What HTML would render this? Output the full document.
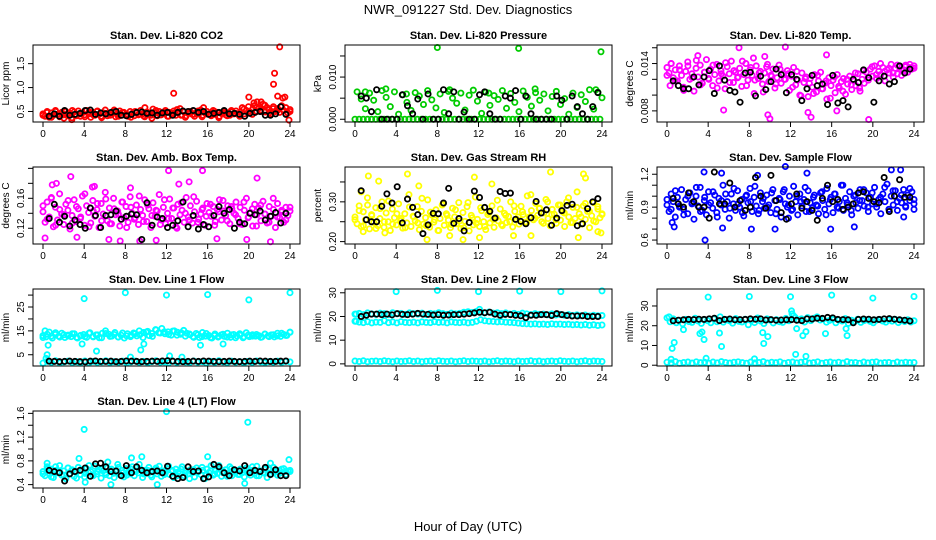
<!DOCTYPE html>
<html><head><meta charset="utf-8">
<style>
html,body{margin:0;padding:0;background:#fff;}
svg{display:block;font-family:"Liberation Sans",Arial,sans-serif;}
</style></head>
<body>
<svg id="chart" width="936" height="540" viewBox="0 0 936 540" xmlns="http://www.w3.org/2000/svg">
<rect width="936" height="540" fill="#fff"/>
<text x="468" y="14" text-anchor="middle" font-size="13">NWR_091227  Std. Dev. Diagnostics</text>
<text x="468" y="531" text-anchor="middle" font-size="13">Hour of Day (UTC)</text>
</svg>
<script>
const hourTicks = [0,4,8,12,16,20,24];

const co2Red = [0.45,0.40,0.50,0.38,0.47,0.42,0.52,0.44,0.39,0.48,0.43,0.50,0.41,0.46,0.37,0.49,0.44,0.51,0.40,0.47,0.43,0.52,0.45,0.38,
0.48,0.42,0.50,0.44,0.40,0.47,0.53,0.41,0.46,0.43,0.49,0.39,0.45,0.51,0.42,0.48,0.44,0.40,0.50,0.46,0.41,0.47,0.43,0.52,
0.45,0.39,0.49,0.44,0.42,0.55,0.47,0.41,0.50,0.43,0.46,0.52,0.40,0.48,0.44,0.51,0.42,0.47,0.56,0.43,0.49,0.41,0.46,0.50,
0.44,0.40,0.48,0.45,0.53,0.42,0.47,0.50,0.45,0.41,0.52,0.44,0.48,0.40,0.46,0.50,0.43,0.47,0.42,0.49,0.45,0.51,0.44,0.48,
0.58,0.45,0.52,0.60,0.48,0.55,0.62,0.50,0.57,0.53,0.65,0.49,0.58,0.54,0.45,0.60,0.50,0.56,0.48,0.62,0.52,0.58,0.47,0.50];
const co2RedB = [0.42,0.48,0.38,0.50,0.44,0.36,0.47,0.52,0.41,0.45,0.39,0.49,0.43,0.51,0.37,0.46,0.42,0.53,0.40,0.48,0.44,0.38,0.50,0.45,0.41,0.47,0.36,0.52,0.43,0.49,0.40,0.46,0.54,0.42,0.38,0.48,0.44,0.51,0.39,0.45,0.43,0.50,0.37,0.47,0.41,0.52,0.46,0.40,0.55,0.48,0.44,0.58,0.50,0.63,0.47,0.56,0.52,0.60,0.45,0.54];
const co2Outliers = [[12.7,0.88],[20,0.80],[20.5,0.68],[20.8,0.70],[21.2,0.70],[22.4,1.07],[22.5,1.30],[22.8,0.82],[23,1.85],[23.3,0.78],[23.5,0.80],[23.9,0.32],[2.8,0.33],[9.9,0.58],[15.6,0.58]];
const co2Black = [0.40,0.45,0.40,0.52,0.42,0.44,0.46,0.52,0.53,0.44,0.47,0.45,0.48,0.50,0.42,0.41,0.44,0.48,0.49,0.46,0.47,0.42,0.47,0.48,0.42,0.48,0.51,0.50,0.52,0.48,0.50,0.44,0.46,0.48,0.52,0.45,0.46,0.44,0.40,0.46,0.48,0.50,0.42,0.42,0.45,0.60,0.44];

const presGreen = [0,0.0065,0,0.0048,0,0.0025,0,0.0062,0,0.0045,0,0.0018,0,0.0068,0,0.0052,0,0.0030,0,0.0065,0,0.0012,0,0.0058,
0,0.0040,0,0.0021,0,0.0063,0,0.0055,0,0.0035,0,0.0068,0,0.0046,0,0.0027,0,0.0060,0,0.0016,0,0.0066,0,0.0050,
0,0.0038,0,0.0062,0,0.0022,0,0.0057,0,0.0069,0,0.0043,0,0.0014,0,0.0064,0,0.0033,0,0.0056,0,0.0047,0,0.0068,
0,0.0026,0,0.0061,0,0.0040,0,0.0018,0,0.0067,0,0.0052,0,0.0031,0,0.0063,0,0.0045,0,0.0060,0,0.0020,0,0.0054,
0,0.0066,0,0.0035,0,0.0049,0,0.0012,0,0.0062,0,0.0028,0,0.0058,0,0.0042,0,0.0070,0,0.0024,0,0.0064,0,0.0051];
const presOutliers = [[8,0.0170],[15.9,0.0168],[23.9,0.0160],[1,0.0065],[3,0.0072],[9.2,0.0070],[17.5,0.0072],[23.4,0.0070],[5,0.0060],[13,0.0062]];
const presBlack = [0.0055,0.0050,0.0018,0.0070,0,0,0,0,0.0058,0.0032,0.0013,0.0048,0,0.0060,0,0,0.0070,0.0013,0.0065,0,0.0017,0,0,0.0058,0.0065,0.0013,0,0,0.0055,0.0050,0.0068,0,0.0055,0.0013,0,0,0,0,0.0055,0.0045,0,0.0055,0.0030,0.0013,0,0.0030,0.0063];

const tempMagenta = [0.0135,0.0128,0.0140,0.0122,0.0132,0.0118,0.0137,0.0125,0.0110,0.0130,0.0142,0.0120,0.0127,0.0105,0.0134,0.0123,0.0138,0.0115,0.0129,0.0145,0.0121,0.0133,0.0112,0.0126,
0.0139,0.0118,0.0131,0.0124,0.0108,0.0136,0.0127,0.0143,0.0116,0.0129,0.0122,0.0134,0.0111,0.0126,0.0140,0.0119,0.0132,0.0125,0.0102,0.0137,0.0121,0.0130,0.0114,0.0128,
0.0136,0.0117,0.0125,0.0133,0.0109,0.0122,0.0138,0.0115,0.0127,0.0120,0.0131,0.0106,0.0124,0.0135,0.0113,0.0119,0.0100,0.0128,0.0116,0.0123,0.0098,0.0121,0.0110,0.0126,
0.0104,0.0118,0.0129,0.0108,0.0115,0.0095,0.0122,0.0112,0.0119,0.0103,0.0126,0.0109,0.0117,0.0121,0.0101,0.0114,0.0124,0.0107,0.0118,0.0112,0.0127,0.0105,0.0120,0.0115,
0.0129,0.0119,0.0133,0.0124,0.0137,0.0121,0.0130,0.0126,0.0135,0.0118,0.0132,0.0128,0.0139,0.0123,0.0134,0.0127,0.0136,0.0125,0.0131,0.0138,0.0129,0.0135,0.0133,0.0137];
const tempMagentaB = [0.0125,0.0140,0.0118,0.0132,0.0106,0.0137,0.0122,0.0144,0.0113,0.0129,0.0120,0.0138,0.0109,0.0127,0.0141,0.0116,0.0131,0.0123,0.0143,0.0112,0.0135,0.0119,0.0128,0.0104,0.0139,0.0124,0.0114,0.0133,0.0120,0.0127,0.0110,0.0130,0.0099,0.0121,0.0115,0.0102,0.0125,0.0108,0.0118,0.0096,0.0123,0.0111,0.0105,0.0120,0.0113,0.0128,0.0109,0.0131,0.0122,0.0136,0.0126,0.0140,0.0130,0.0134,0.0128,0.0138,0.0132,0.0136,0.0139,0.0134];
const tempOutliers = [[7,0.0160],[11.5,0.0161],[10,0.0070],[9.8,0.0075],[5.5,0.0081],[19.6,0.0069],[14,0.0072],[3,0.0150],[15.5,0.0151],[9.5,0.0149],[8.4,0.0147],[0.3,0.0112],[16.5,0.0080],[13.7,0.0078]];
const tempBlack = [0.0118,0.0112,0.0108,0.0108,0.0123,0.0113,0.0123,0.0131,0.0102,0.0137,0.0119,0.0106,0.0104,0.0091,0.0128,0.0129,0.0099,0.0124,0.0107,0.0117,0.0133,0.0126,0.0103,0.0126,0.0120,0.0093,0.0108,0.0125,0.0112,0.0114,0.0088,0.0125,0.0090,0.0093,0.0085,0.0120,0.0116,0.0132,0.0122,0.0091,0.0118,0.0124,0.0114,0.0117,0.0137,0.0128,0.0133];

const boxMagenta = [0.142,0.128,0.155,0.135,0.160,0.122,0.148,0.131,0.166,0.139,0.125,0.152,0.144,0.119,0.137,0.158,0.129,0.146,0.133,0.163,0.124,0.150,0.141,0.127,
0.157,0.136,0.145,0.121,0.153,0.139,0.168,0.130,0.147,0.126,0.160,0.138,0.143,0.123,0.155,0.134,0.149,0.128,0.162,0.140,0.132,0.151,0.125,0.145,
0.137,0.158,0.129,0.146,0.121,0.154,0.136,0.143,0.165,0.131,0.148,0.126,0.140,0.159,0.133,0.147,0.122,0.152,0.138,0.144,0.128,0.161,0.135,0.150,
0.127,0.142,0.156,0.132,0.139,0.147,0.124,0.153,0.141,0.136,0.149,0.129,0.145,0.158,0.131,0.143,0.137,0.150,0.126,0.146,0.140,0.155,0.133,0.148,
0.125,0.144,0.160,0.135,0.141,0.123,0.152,0.138,0.147,0.130,0.156,0.139,0.127,0.149,0.136,0.145,0.121,0.153,0.134,0.142,0.128,0.148,0.137,0.143];
const boxMagentaB = [0.150,0.132,0.161,0.124,0.145,0.138,0.157,0.127,0.149,0.135,0.166,0.122,0.143,0.153,0.130,0.159,0.126,0.146,0.139,0.155,0.121,0.148,0.134,0.163,0.129,0.151,0.137,0.144,0.125,0.158,0.133,0.147,0.120,0.154,0.140,0.131,0.162,0.128,0.145,0.136,0.152,0.124,0.142,0.157,0.130,0.149,0.138,0.126,0.155,0.134,0.146,0.123,0.151,0.139,0.128,0.160,0.135,0.144,0.131,0.148];
const boxOutliers = [[0.2,0.107],[0.9,0.178],[1.3,0.180],[2.7,0.189],[5,0.176],[6.4,0.105],[7.5,0.103],[9.4,0.103],[11,0.104],[12.2,0.197],[13.2,0.179],[14.2,0.182],[15.5,0.197],[16.9,0.106],[19.8,0.105],[20.8,0.187],[22.1,0.102],[3.3,0.108],[4.8,0.175],[8.5,0.174]];
const boxBlack = [0.133,0.152,0.128,0.136,0.123,0.131,0.125,0.120,0.147,0.137,0.121,0.137,0.138,0.143,0.132,0.136,0.139,0.138,0.105,0.154,0.124,0.135,0.133,0.121,0.124,0.130,0.155,0.122,0.137,0.119,0.125,0.122,0.137,0.149,0.140,0.145,0.120,0.128,0.126,0.140,0.138,0.143,0.131,0.136,0.141,0.127,0.140];

const rhYellow = [0.262,0.245,0.290,0.238,0.275,0.255,0.310,0.232,0.268,0.248,0.285,0.240,0.258,0.300,0.236,0.272,0.250,0.228,0.282,0.260,0.242,0.295,0.253,0.234,
0.270,0.247,0.318,0.238,0.264,0.252,0.288,0.230,0.276,0.244,0.260,0.305,0.236,0.267,0.249,0.280,0.228,0.258,0.292,0.241,0.270,0.254,0.235,0.284,
0.262,0.245,0.298,0.233,0.273,0.251,0.288,0.227,0.266,0.242,0.312,0.256,0.238,0.278,0.250,0.230,0.268,0.247,0.290,0.236,0.260,0.252,0.282,0.240,
0.271,0.248,0.263,0.300,0.237,0.276,0.256,0.244,0.289,0.268,0.249,0.315,0.262,0.278,0.255,0.296,0.266,0.284,0.250,0.272,0.306,0.258,0.240,0.281,
0.269,0.246,0.292,0.254,0.275,0.238,0.300,0.262,0.248,0.286,0.258,0.325,0.270,0.244,0.290,0.256,0.276,0.235,0.265,0.298,0.250,0.282,0.260,0.270];
const rhYellowB = [0.255,0.278,0.240,0.292,0.265,0.233,0.283,0.250,0.302,0.244,0.270,0.258,0.235,0.287,0.262,0.247,0.309,0.240,0.274,0.255,0.228,0.294,0.266,0.243,0.280,0.252,0.235,0.298,0.260,0.246,0.285,0.238,0.272,0.256,0.304,0.243,0.266,0.250,0.290,0.262,0.275,0.248,0.318,0.259,0.283,0.246,0.300,0.268,0.255,0.292,0.272,0.310,0.248,0.286,0.262,0.296,0.276,0.252,0.288,0.268];
const rhOutliers = [[0.6,0.325],[1.3,0.365],[2.3,0.352],[0.8,0.225],[5.1,0.370],[7,0.205],[6.2,0.340],[11.6,0.362],[12.1,0.210],[13.3,0.345],[15.4,0.215],[19,0.375],[22.2,0.370],[22.4,0.360],[21.7,0.210],[23.6,0.225],[23.9,0.222],[9.2,0.215],[10.5,0.205],[2.9,0.222],[17.1,0.215]];
const rhBlack = [0.328,0.255,0.250,0.250,0.289,0.320,0.297,0.338,0.247,0.307,0.286,0.268,0.220,0.242,0.271,0.270,0.297,0.334,0.246,0.258,0.227,0.248,0.327,0.311,0.286,0.276,0.259,0.326,0.321,0.322,0.256,0.251,0.245,0.260,0.301,0.272,0.280,0.241,0.259,0.278,0.291,0.294,0.240,0.245,0.283,0.300,0.308];

const flowBlue = [0.92,0.86,1.02,0.95,0.81,0.99,0.90,1.06,0.88,0.97,0.84,1.03,0.93,0.79,1.00,0.91,1.08,0.87,0.96,0.83,1.04,0.94,0.89,1.01,
0.85,0.98,0.92,1.10,0.88,0.95,0.80,1.02,0.93,0.87,1.05,0.90,0.97,0.82,1.00,0.94,1.07,0.86,0.99,0.91,0.84,1.03,0.95,0.89,
1.01,0.92,0.85,1.06,0.96,0.88,0.98,0.81,1.04,0.93,0.90,1.00,0.87,1.09,0.95,0.83,1.02,0.91,0.97,0.86,1.05,0.94,0.89,1.01,
0.92,0.84,1.03,0.96,0.88,1.07,0.93,0.99,0.85,1.02,0.90,0.95,1.10,0.87,0.98,0.92,1.04,0.83,1.00,0.94,0.89,1.06,0.96,0.91,
1.03,0.86,0.99,0.93,1.08,0.90,0.97,0.84,1.02,0.95,1.11,0.88,1.00,0.92,1.05,0.87,0.98,0.94,1.06,0.90,1.01,0.96,1.04,0.93];
const flowBlueB = [0.97,0.88,1.05,0.91,0.83,1.00,0.94,1.08,0.86,0.99,0.92,1.04,0.81,0.96,1.02,0.89,1.07,0.93,0.85,1.01,0.95,1.09,0.87,0.98,0.90,1.03,0.84,0.97,1.06,0.92,0.88,1.00,0.95,1.08,0.86,0.99,0.91,1.04,0.83,0.97,1.02,0.89,1.10,0.94,0.87,1.01,0.96,1.06,0.90,1.03,0.93,0.99,1.08,0.88,1.05,0.95,1.01,0.91,1.07,0.97];
const flowOutliers = [[0.5,0.76],[0.7,0.72],[3.7,0.60],[3.6,1.22],[5.3,1.21],[5.4,0.71],[8.2,0.70],[10.5,0.70],[11.5,1.27],[13.6,1.21],[15.9,0.70],[18.2,0.72],[21.8,1.24],[22.7,1.24],[23,0.81],[24,0.88],[8.8,1.19],[11.8,0.80]];
const flowBlack = [0.98,0.93,0.90,1.03,0.95,0.90,0.90,0.80,1.22,0.93,0.93,1.12,0.90,0.96,0.87,0.90,1.17,1.00,0.89,1.19,0.96,0.85,0.79,0.93,1.02,0.89,0.95,0.87,0.78,0.98,1.10,0.95,0.97,0.88,0.90,0.93,1.03,1.04,0.98,0.95,0.94,1.17,0.86,1.00,1.15,0.99,0.99];

const line1Band = [13,12.5,14.5,12,13.5,12.8,14,12.2,13.2,12.6,13.8,12,12.9,13.5,12.3,14.2,12.7,13.3,12.1,14,15,13.6,12.8,14.3,
12.5,13.2,12,13.8,12.6,14.1,12.9,13.4,12.2,14.5,13,12.7,15.5,14.2,16,13.8,14.6,13.2,15,14.4,13.6,15.2,14,13.4,
12.6,13.9,12.2,14.3,12.8,13.1,12,13.7,12.4,13.3,12.7,14,12.3,13.5,12.9,13.2,12.1,14.2,12.6,13.4,12.8,13,12.4,13.6,
12.9,13.3,12.5,14,12.7,13.5,13.1,14.5];
const line1BandB = [12.2,13.6,12.8,14.2,12.4,13.4,12.9,13.8,12.3,13.1,12.6,14,12.5,13.3,12.1,13.9,12.7,13.5,12.4,14.1,12.9,13.2,13.8,15,14.3,14.8,13.9,15.4,14.1,14.6,13.5,14.9,13.2,14.2,12.8,13.7,12.3,13.4,12.6,13.9,12.2,13.1,12.7,13.6,12.4,13.3,12.1,13.8,12.5,13.2,12.8,13.5,12.3,13.7,12.6,13.4,12.9,14,13.1,14.4];
const line1Low = [1.5,2.2,1.8,2.5,1.6,2.0,2.3,1.7,2.1,1.9,2.4,1.6,2.2,1.8,2.0,2.5,1.7,2.1,1.9,2.3,1.6,2.0,2.4,1.8,2.2,1.7,2.1,2.5,1.9,2.0,
1.6,2.3,1.8,2.2,2.0,1.7,2.4,1.9,2.1,1.6,2.2,1.8,2.5,2.0,1.7,2.3,1.9,2.1,1.6,2.2,1.8,2.4,2.0,1.7,2.1,1.9,2.3,1.8,2.2,2.0];
const line1Outliers = [[4,28.5],[8,31],[12,30],[16,30.2],[20,28],[24,31],[0.2,15],[0.5,9],[0.4,5],[0.3,3.5],[3.8,9.5],[5.2,6.5],[9.5,7],[9.8,9.5],[8.5,4],[12.3,4.5],[13.5,4],[15.3,9],[17.5,9.5],[3.6,1.5]];
const line1Black = [2.3,2.2,2.1,2.2,2.3,2.2,2.1,2.0,2.3,2.4,2.2,2.2,2.3,2.1,2.2,2.4,2.3,2.2,2.1,2.2,2.3,2.2,2.4,2.5,2.3,2.2,2.1,2.2,2.3,2.2,2.4,2.3,2.2,2.1,2.2,2.3,2.2,2.1,2.2,2.3,2.2,2.4,2.3,2.2,2.2,2.3,2.4];

const line2Top = [21,21.3,20.8,21.5,21.1,20.9,21.4,21.2,20.8,21.6,21.1,21.3,20.9,21.5,21.2,21.0,21.4,20.8,21.3,21.1,21.6,21.2,20.9,21.4,21.1,21.3,21.8,22,21.7,22.1,
21.8,21.5,21.9,21.4,21.6,21.2,21.5,21.0,21.3,20.9,21.4,21.1,20.8,21.2,20.9,21.0,20.7,21.1,20.6,20.9,20.5,20.8,20.4,20.7,20.3,20.6,20.2,20.5,20.3,20.4];
const line2Mid = [18,17.6,17.4,17.8,17.3,17.6,17.5,18.2,17.4,17.7,17.3,17.8,17.5,17.4,17.6,17.3,17.7,17.5,17.4,17.8,17.5,17.6,17.3,17.7,17.5,17.4,17.6,17.3,17.5,18,
18.6,18.2,18.0,17.9,17.7,17.8,17.6,17.5,17.4,17.2,17.0,16.9,16.8,16.9,16.7,16.8,16.6,16.9,16.7,16.8,16.6,16.7,16.5,16.6,16.4,16.6,16.3,16.5,16.2,16.4];
const line2Low = [1.2,1.0,1.3,0.9,1.1,1.2,1.0,1.3,1.1,0.9,1.2,1.0,1.1,1.3,1.0,1.2,0.9,1.1,1.2,1.0,1.3,1.1,1.0,1.2,0.9,1.1,1.3,1.0,1.2,1.1,
1.0,1.2,0.9,1.1,1.3,1.0,1.2,1.1,0.9,1.2,1.0,1.1,1.3,1.0,1.2,0.9,1.1,1.2,1.0,1.3,1.1,1.0,1.2,0.9,1.1,1.3,1.0,1.2,1.1,1.0];
const line2Outliers = [[4,30.5],[8,31],[12,30.5],[16,30.7],[20,30.5],[24,30.8],[12.1,23],[0.1,21],[0.1,18]];
const line2Black = [20,20.5,21,21,20.8,21,20.7,21.2,20.9,20.8,21,21.3,21,20.9,20.6,20.8,20.5,20.6,20.8,20.8,21,21.2,21.5,21.8,21.6,21.8,21,20.5,20.9,20.8,20.5,20.3,19.5,20.5,20.5,20.8,20.8,20.4,21.2,20.8,20.4,20.2,20.2,20.3,20,20,20];

const line3Band = [24,22,23.5,21.5,22.8,21,23.2,22.1,21.7,23.8,22.4,21.2,23,22.6,21.5,23.4,22,24.5,21.8,23.1,22.5,21.3,23.6,22.2,21.9,23.3,20.5,22.7,21.6,23.9,
22.3,21.1,23.5,22.8,21.4,23.1,22,21.7,23.7,22.5,26,24.2,22.8,23.5,21.9,24.1,22.6,23.8,24.5,22.9,23.4,21.8,22.7,23.2,21.5,22.9,22.4,23.6,21.2,22.8,
22.1,23.3,21.7,22.6,23,22.2,21.5,22.8,23.1,22.4,21.8,22.9,22.3,23.2,21.6,22.7,22.1,23,21.9,22.5];
const line3Low = [1.5,1.2,1.8,1.0,1.4,1.6,1.1,1.7,1.3,1.5,1.0,1.6,1.2,1.8,1.4,1.1,1.5,1.7,1.3,1.0,1.6,1.2,1.4,1.8,1.1,1.5,1.3,1.7,1.0,1.4,
1.6,1.2,1.5,1.8,1.1,1.3,1.7,1.0,1.4,1.6,1.2,1.5,1.1,1.8,1.3,1.4,1.0,1.6,1.2,1.5,1.7,1.1,1.3,1.4,1.0,1.6,1.2,1.5,1.3,1.4];
const line3Outliers = [[4,34.5],[8,34.8],[12,34.7],[16,35.5],[20,34],[24,34.8],[0.2,24.5],[0.4,3],[0.5,8.5],[0.7,11.5],[1.6,18],[3.2,16],[3.4,16.8],[3.6,13],[3.8,3.5],[5.1,16.3],[5.3,9.5],[8.5,3.2],[9.3,16.5],[9.4,11],[9.8,14.5],[12.1,27.5],[12.3,25],[12.5,5.5],[12.6,18.5],[13.2,15],[13.5,17],[13.5,4.5],[15.4,16],[17.5,15],[17.4,18.5]];
const line3Black = [22.5,22.8,23,23.2,23.1,23.3,23.2,23.5,23.8,22.6,23.2,23.4,23,23.1,23.2,23.5,23.3,23.5,22.9,23.1,22.8,22.9,23,23.1,22.8,22.6,23.5,23.4,23.8,23.7,24.2,24,23.2,23.1,23,21.5,23.2,23.4,23.3,23,23.2,23.5,23.6,23.3,23,22.8,22.4];

const line4Cyan = [0.62,0.55,0.70,0.58,0.66,0.52,0.64,0.60,0.72,0.56,0.63,0.50,0.68,0.59,0.65,0.54,0.61,0.69,0.57,0.64,0.53,0.67,0.60,0.62,
0.56,0.71,0.58,0.65,0.51,0.63,0.60,0.68,0.55,0.66,0.59,0.62,0.74,0.57,0.64,0.53,0.67,0.61,0.58,0.70,0.55,0.63,0.60,0.66,
0.52,0.64,0.59,0.69,0.56,0.62,0.65,0.58,0.71,0.54,0.63,0.60,0.67,0.57,0.64,0.52,0.66,0.61,0.59,0.70,0.55,0.63,0.58,0.65,
0.60,0.53,0.68,0.62,0.57,0.64,0.50,0.66,0.60,0.72,0.56,0.63,0.59,0.67,0.54,0.62,0.65,0.58,0.70,0.55,0.61,0.64,0.57,0.66,
0.60,0.53,0.68,0.62,0.56,0.64,0.59,0.71,0.55,0.63,0.60,0.66,0.52,0.65,0.58,0.69,0.61,0.56,0.64,0.60,0.67,0.57,0.63,0.62];
const line4CyanB = [0.58,0.66,0.53,0.70,0.61,0.56,0.68,0.63,0.51,0.65,0.59,0.72,0.55,0.62,0.67,0.57,0.64,0.52,0.69,0.60,0.56,0.66,0.62,0.74,0.58,0.64,0.53,0.68,0.61,0.57,0.71,0.63,0.55,0.66,0.59,0.50,0.65,0.61,0.69,0.56,0.63,0.58,0.72,0.60,0.54,0.67,0.62,0.57,0.65,0.60,0.70,0.55,0.63,0.59,0.68,0.61,0.56,0.66,0.62,0.64];
const line4Outliers = [[4,1.33],[12,1.63],[19.9,1.45],[3.5,0.84],[8.6,0.85],[9.6,0.87],[16,0.87],[6.6,0.40],[11.1,0.40],[4.1,0.44],[19.6,0.42],[0.4,0.76],[6.3,0.78],[22.1,0.76],[23.9,0.82]];
const line4Black = [0.64,0.62,0.60,0.46,0.58,0.62,0.64,0.68,0.54,0.75,0.76,0.70,0.62,0.63,0.55,0.72,0.60,0.70,0.64,0.60,0.62,0.63,0.60,0.71,0.54,0.50,0.52,0.70,0.62,0.63,0.50,0.53,0.74,0.70,0.60,0.55,0.65,0.63,0.72,0.60,0.64,0.62,0.69,0.57,0.65,0.55,0.55];

const panels = [
 {name:'co2',title:'Stan. Dev. Li-820 CO2',ylab:'Licor ppm',col:0,row:0,ymin:0.28,ymax:1.89,ticks:[0.5,1.0,1.5],labels:['0.5','1.0','1.5'],color:'#ff0000',clouds:[co2Red,co2RedB],out:co2Outliers,black:co2Black},
 {name:'pressure',title:'Stan. Dev. Li-820 Pressure',ylab:'kPa',col:1,row:0,ymin:-0.00065,ymax:0.0176,ticks:[0,0.005,0.010,0.015],labels:['0.000','','0.010',''],color:'#00cc00',clouds:[presGreen],out:presOutliers,black:presBlack},
 {name:'li820-temp',title:'Stan. Dev. Li-820 Temp.',ylab:'degrees C',col:2,row:0,ymin:0.00659,ymax:0.01635,ticks:[0.008,0.010,0.012,0.014,0.016],labels:['0.008','','','0.014',''],color:'#ff00ff',clouds:[tempMagenta,tempMagentaB],out:tempOutliers,black:tempBlack},
 {name:'box-temp',title:'Stan. Dev. Amb. Box Temp.',ylab:'degrees C',col:0,row:1,ymin:0.099,ymax:0.2018,ticks:[0.12,0.14,0.16,0.18,0.20],labels:['0.12','','0.16','',''],color:'#ff00ff',clouds:[boxMagenta,boxMagentaB],out:boxOutliers,black:boxBlack},
 {name:'gas-rh',title:'Stan. Dev. Gas Stream RH',ylab:'percent',col:1,row:1,ymin:0.194,ymax:0.3876,ticks:[0.20,0.25,0.30,0.35],labels:['0.20','','0.30',''],color:'#ffff00',clouds:[rhYellow,rhYellowB],out:rhOutliers,black:rhBlack},
 {name:'sample-flow',title:'Stan. Dev. Sample Flow',ylab:'ml/min',col:2,row:1,ymin:0.564,ymax:1.266,ticks:[0.6,0.7,0.8,0.9,1.0,1.1,1.2],labels:['0.6','','','0.9','','','1.2'],color:'#0000ff',clouds:[flowBlue,flowBlueB],out:flowOutliers,black:flowBlack},
 {name:'line1-flow',title:'Stan. Dev. Line 1 Flow',ylab:'ml/min',col:0,row:2,ymin:0.28,ymax:32.55,ticks:[5,10,15,20,25,30],labels:['5','','15','','25',''],color:'#00ffff',clouds:[line1Band,line1BandB,line1Low],out:line1Outliers,black:line1Black},
 {name:'line2-flow',title:'Stan. Dev. Line 2 Flow',ylab:'ml/min',col:1,row:2,ymin:-0.9,ymax:31.6,ticks:[0,10,20,30],labels:['0','10','20','30'],color:'#00ffff',clouds:[line2Top,line2Mid,line2Low],out:line2Outliers,black:line2Black},
 {name:'line3-flow',title:'Stan. Dev. Line 3 Flow',ylab:'ml/min',col:2,row:2,ymin:-0.4,ymax:38.6,ticks:[0,10,20,30],labels:['0','10','20','30'],color:'#00ffff',clouds:[line3Band,line3Low],out:line3Outliers,black:line3Black},
 {name:'line4-flow',title:'Stan. Dev. Line 4 (LT) Flow',ylab:'ml/min',col:0,row:3,ymin:0.343,ymax:1.64,ticks:[0.4,0.6,0.8,1.0,1.2,1.4,1.6],labels:['0.4','','0.8','','1.2','','1.6'],color:'#00ffff',clouds:[line4Cyan,line4CyanB],out:line4Outliers,black:line4Black}
];

const svg = document.getElementById('chart');
const NS = 'http://www.w3.org/2000/svg';
const colLeft = [33,345,657];
const rowTop = [45,167,289,411];
const boxW = 267, boxH = 77;

function mk(tag, attrs, parent){
  const e = document.createElementNS(NS, tag);
  for (const k in attrs) e.setAttribute(k, attrs[k]);
  parent.appendChild(e);
  return e;
}

panels.forEach(p => {
  const L = colLeft[p.col], T = rowTop[p.row], R = L + boxW, B = T + boxH;
  const g = mk('g', {}, svg);
  
  
  const xs = h => L + 10 + h * (boxW - 20) / 24;
  const ys = v => B - (v - p.ymin) / (p.ymax - p.ymin) * boxH;

  const t = mk('text', {x:(L+R)/2, y:T-6, 'text-anchor':'middle','font-size':11,'font-weight':'bold'}, g);
  t.textContent = p.title;
  
  

  const yl = mk('text', {x:0, y:0, 'text-anchor':'middle','font-size':10, transform:`translate(${L-24},${(T+B)/2}) rotate(-90)`}, g);
  yl.textContent = p.ylab;
  
  

  const pts = mk('g', {fill:'none','stroke-width':1.8}, g);
  
  
  p.clouds.forEach(arr => {
    arr.forEach((v, i) => {
      const c = mk('circle', {cx:xs(i*24/(arr.length-1)), cy:ys(v), r:2.6, stroke:p.color}, pts);
      
      
    });
  });
  p.out.forEach(o => {
    const c = mk('circle', {cx:xs(o[0]), cy:ys(o[1]), r:2.6, stroke:p.color}, pts);
    
    
  });
  p.black.forEach((v, i) => {
    const c = mk('circle', {cx:xs(0.6 + i*0.5), cy:ys(v), r:2.6, stroke:'#000'}, pts);
    
    
  });

  const box = mk('rect', {x:L, y:T, width:boxW, height:boxH, fill:'none', stroke:'#000', 'stroke-width':1}, g);
  
  

  const xa = mk('g', {}, g);
  
  
  hourTicks.forEach(h => {
    mk('line', {x1:xs(h), x2:xs(h), y1:B, y2:B+5, stroke:'#000'}, xa);
    const tx = mk('text', {x:xs(h), y:B+15, 'text-anchor':'middle','font-size':10}, xa);
    tx.textContent = h;
  });
  const ya = mk('g', {}, g);
  
  
  p.ticks.forEach((v, i) => {
    mk('line', {x1:L-5, x2:L, y1:ys(v), y2:ys(v), stroke:'#000'}, ya);
    if (p.labels[i]) {
      const ty = mk('text', {x:0, y:0, 'text-anchor':'middle','font-size':10, transform:`translate(${L-9},${ys(v)}) rotate(-90)`}, ya);
      ty.textContent = p.labels[i];
    }
  });
});
</script>
</body></html>
